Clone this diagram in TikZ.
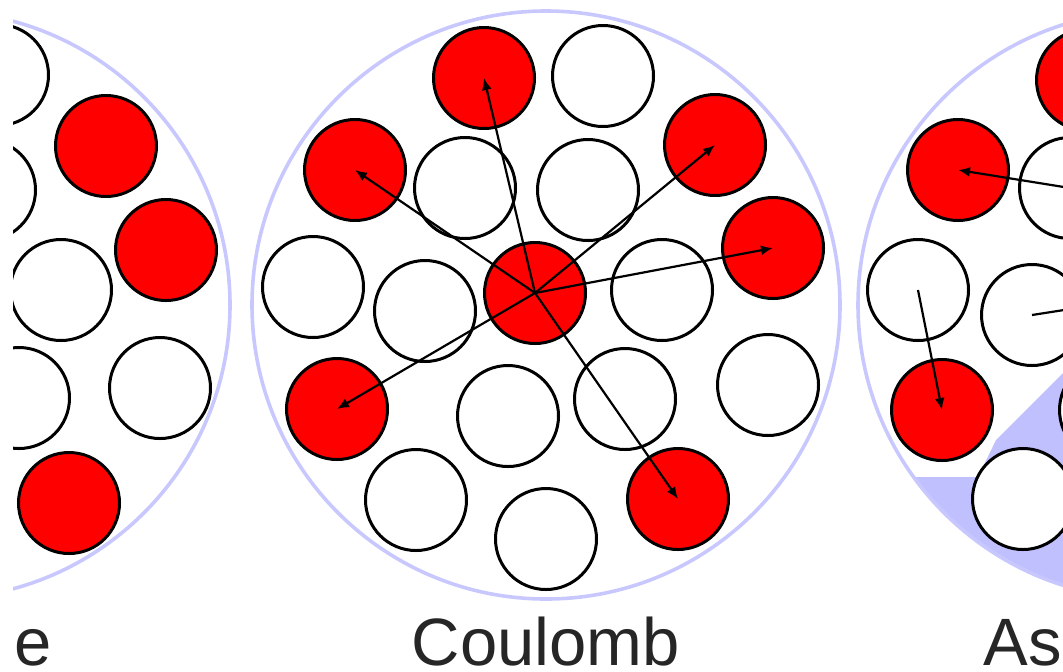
\documentclass[tikz,border=0pt]{standalone}
\usepackage{fontspec}
\setmainfont{Liberation Sans}
\usetikzlibrary{arrows.meta}
\definecolor{ballred}{RGB}{255,0,0}
\definecolor{rim}{RGB}{200,200,255}
\definecolor{wedgeblue}{RGB}{192,192,255}
\begin{document}
\begin{tikzpicture}[x=0.5pt,y=-0.5pt,
  ball/.style={circle,draw=black,line width=1.5pt,minimum size=50.5pt,inner sep=0pt},
  redball/.style={ball,fill=ballred},
  whiteball/.style={ball,fill=white},
  rimcircle/.style={circle,draw=rim,line width=1.8pt,minimum size=294pt,inner sep=0pt},
  arr/.style={draw=black,line width=1.1pt,-{Latex[length=6pt,width=5pt]}},
  paneltext/.style={font=\fontsize{33.5pt}{40pt}\selectfont,text=black!85,inner sep=0pt,text depth=0pt}
]
\useasboundingbox (0,0) rectangle (1063,671);
\clip (13,0) rectangle (1063,671);

% blue wedge in right panel
\begin{scope}
  \clip (1152,305) circle[radius=294];
  \fill[wedgeblue] (1125,311) -- (1063,373) -- (996,440) -- (978,477) -- (850,477)
     -- (850,700) -- (1300,700) -- (1300,311) -- cycle;
\end{scope}

% panel boundaries
\node[rimcircle] (P1) at (-64,305) {};
\node[rimcircle] (P2) at (546,305) {};
\node[rimcircle] (P3) at (1152,305) {};

% left panel
\node[whiteball] (L1) at (-2,75) {};
\node[whiteball] (L2) at (-15,190) {};
\node[redball]   (L3) at (106,146) {};
\node[redball]   (L4) at (166,250) {};
\node[whiteball] (L5) at (61,290) {};
\node[whiteball] (L6) at (19,398) {};
\node[whiteball] (L7) at (160,388) {};
\node[redball]   (L8) at (69,503) {};

% centre panel
\node[redball]   (R1) at (484,78) {};
\node[whiteball] (W1) at (603,76) {};
\node[redball]   (R2) at (355,170) {};
\node[whiteball] (W2) at (465,188) {};
\node[whiteball] (W3) at (588,190) {};
\node[redball]   (R3) at (715,145) {};
\node[redball]   (R4) at (773,248) {};
\node[whiteball] (W4) at (313,287) {};
\node[whiteball] (W5) at (425,311) {};
\node[whiteball] (W6) at (662,290) {};
\node[redball]   (R5) at (535,293) {};
\node[whiteball] (W7) at (768,385) {};
\node[whiteball] (W8) at (508,416) {};
\node[whiteball] (W9) at (625,399) {};
\node[redball]   (R6) at (337,409) {};
\node[whiteball] (W10) at (416,500) {};
\node[whiteball] (W11) at (546,539) {};
\node[redball]   (R7) at (678,499) {};

\foreach \t in {R1,R2,R3,R4,R6,R7}
  \draw[arr] (R5.center) -- (\t.center);

% right panel
\node[redball]   (Q0) at (1087,80) {};
\node[redball]   (Q1) at (958,170) {};
\node[whiteball] (Q2) at (1070,188) {};
\node[whiteball] (Q4) at (918,290) {};
\node[whiteball] (Q5) at (1032,315) {};
\node[redball]   (Q6) at (942,410) {};
\node[whiteball] (Q7) at (1110,410) {};
\node[whiteball] (Q8) at (1023,499) {};
\coordinate (q9) at (1160,295);

\draw[arr] (Q2.center) -- (Q1.center);
\draw[arr] (Q4.center) -- (Q6.center);
\draw[arr] (Q5.center) -- (q9);

% labels
\node[paneltext,anchor=base east] (T1) at (52,665) {e};
\node[paneltext,anchor=base] (T2) at (546,665) {Coulomb};
\node[paneltext,anchor=base west] (T3) at (983,665) {As};
\end{tikzpicture}
\end{document}
